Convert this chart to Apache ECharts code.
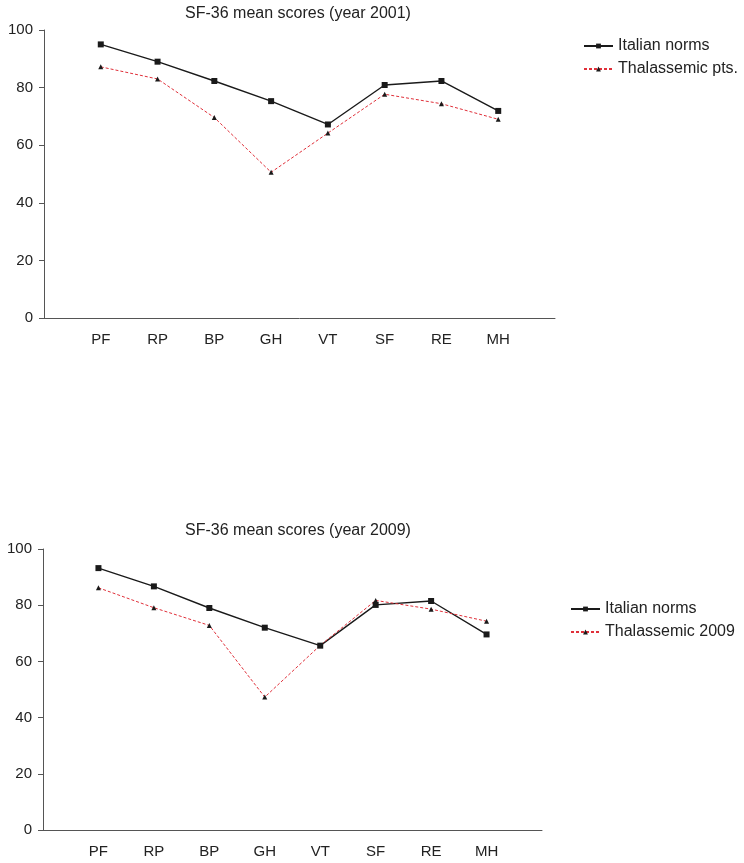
<!DOCTYPE html>
<html><head><meta charset="utf-8">
<script src="https://cdn.jsdelivr.net/npm/echarts@6/dist/echarts.min.js"></script>
<style>html,body{margin:0;padding:0;background:#fff}#c{width:744px;height:863px}</style>
</head><body><div id="c"></div>
<script>
const categories = ['', 'PF', 'RP', 'BP', 'GH', 'VT', 'SF', 'RE', 'MH', ''];
const yTicks = [0, 20, 40, 60, 80, 100];
const italian2001 = [null, 95, 89, 82.3, 75.3, 67.2, 80.9, 82.3, 71.9, null];
const thal2001 = [null, 87.2, 83, 69.6, 50.6, 64.2, 77.7, 74.4, 69, null];
const italian2009 = [null, 93.2, 86.7, 79, 72, 65.6, 80.1, 81.5, 69.6, null];
const thal2009 = [null, 86.2, 79.1, 72.8, 47.3, 65.7, 81.7, 78.6, 74.3, null];

const font = 'Liberation Sans, Arial, sans-serif';
const chart = echarts.init(document.getElementById('c'), null, {renderer: 'canvas'});
function xAxis(gi) {
  return {
    type: 'category', gridIndex: gi, data: categories, boundaryGap: false,
    axisLine: {lineStyle: {color: '#555', width: 1}},
    axisTick: {show: false},
    axisLabel: {color: '#222', fontSize: 15, fontFamily: font, margin: 14, interval: 0},
    splitLine: {show: false}
  };
}
function yAxis(gi) {
  return {
    type: 'value', gridIndex: gi, min: yTicks[0], max: yTicks[yTicks.length - 1], interval: 20,
    axisLine: {show: true, lineStyle: {color: '#555', width: 1}},
    axisTick: {show: true, length: 5, lineStyle: {color: '#555'}},
    axisLabel: {color: '#222', fontSize: 15, fontFamily: font, margin: 11},
    splitLine: {show: false}
  };
}
function blackSeries(name, data, gi) {
  return {
    name, type: 'line', xAxisIndex: gi, yAxisIndex: gi, data,
    symbol: 'rect', symbolSize: 6, connectNulls: false,
    lineStyle: {color: '#1a1a1a', width: 1.4},
    itemStyle: {color: '#1a1a1a'}, emphasis: {disabled: true}
  };
}
function redSeries(name, data, gi) {
  return {
    name, type: 'line', xAxisIndex: gi, yAxisIndex: gi, data,
    symbol: 'triangle', symbolSize: 5,
    lineStyle: {color: '#e0303a', width: 1, type: [3, 2]},
    itemStyle: {color: '#1a1a1a'}, emphasis: {disabled: true}
  };
}
const legendCommon = {
  orient: 'vertical', itemWidth: 29, itemHeight: 6, itemGap: 7, padding: 0,
  textStyle: {fontSize: 16, color: '#222', fontFamily: font}
};
chart.setOption({
  animation: false,
  backgroundColor: '#fff',
  title: [
    {text: 'SF-36 mean scores (year 2001)', left: 298, top: 6, textAlign: 'center', padding: 0,
     textStyle: {fontSize: 16, fontWeight: 'normal', color: '#222', fontFamily: font}},
    {text: 'SF-36 mean scores (year 2009)', left: 298, top: 523, textAlign: 'center', padding: 0,
     textStyle: {fontSize: 16, fontWeight: 'normal', color: '#222', fontFamily: font}}
  ],
  legend: [
    Object.assign({data: ['Italian norms', 'Thalassemic pts.'], left: 583, top: 38}, legendCommon),
    Object.assign({data: ['Italian norms ', 'Thalassemic 2009'], left: 570, top: 601}, legendCommon)
  ],
  grid: [
    {left: 44, top: 30, width: 511, height: 288},
    {left: 43, top: 549, width: 499, height: 281}
  ],
  xAxis: [xAxis(0), xAxis(1)],
  yAxis: [yAxis(0), yAxis(1)],
  series: [
    blackSeries('Italian norms', italian2001, 0),
    redSeries('Thalassemic pts.', thal2001, 0),
    blackSeries('Italian norms ', italian2009, 1),
    redSeries('Thalassemic 2009', thal2009, 1)
  ]
});
</script></body></html>
